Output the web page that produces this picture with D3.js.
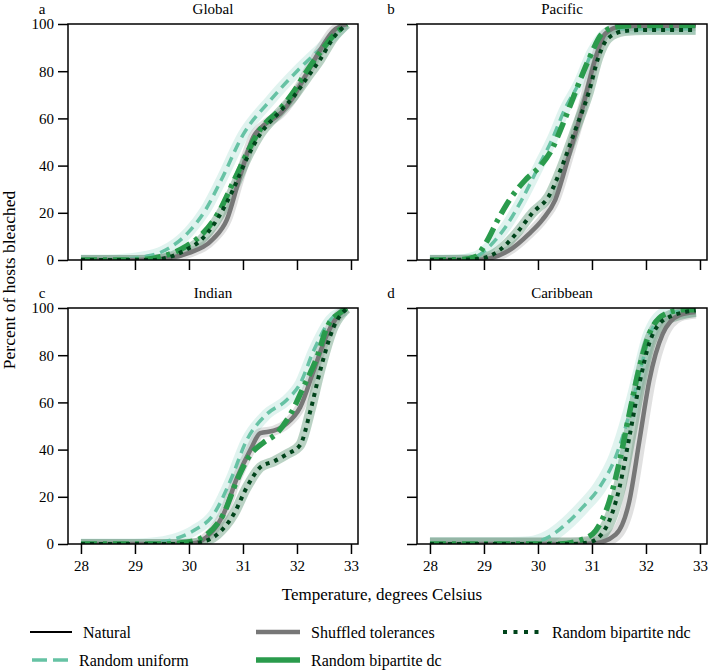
<!DOCTYPE html>
<html>
<head>
<meta charset="utf-8">
<script src="https://cdn.jsdelivr.net/npm/d3@7"></script>
<style>
  body { margin: 0; background: #fff; }
  svg text { font-family: "Liberation Serif", Tinos, "Times New Roman", Times, "DejaVu Serif", serif !important; fill: #000; }
</style>
</head>
<body>
<svg id="chart" width="709" height="670"></svg>
<script>
// ---- data: [temperature, percent bleached] ----
const globalUniform = [[28,0],[28.5,0],[28.8,0.3],[29.2,1.5],[29.5,3.5],[30,12],[30.3,21],[30.6,34],[31,53],[31.5,67.5],[32,80],[32.5,91],[32.9,100]];
const globalShuffled = [[28,0],[29,0],[29.5,0.5],[30,3],[30.45,9],[30.7,17],[30.94,35],[31.19,52],[31.44,58],[31.69,62],[31.93,69],[32.18,79],[32.43,89],[32.67,97],[32.92,100]];
const globalNatural = [[28,0],[29,0],[29.5,0.5],[30,3],[30.45,9],[30.7,17],[30.94,35],[31.19,52],[31.44,58],[31.69,62],[31.93,69],[32.18,79],[32.43,89],[32.67,97],[32.92,100]];
const globalDc = [[28,0],[29,0],[29.5,1.5],[29.96,6],[30.2,10],[30.57,21],[30.82,33],[31.07,45],[31.31,55],[31.69,64],[31.93,71],[32.18,80],[32.43,88],[32.67,95],[32.92,100]];
const globalNdc = [[28,0],[29.3,0],[29.6,1],[29.96,4.5],[30.2,8],[30.57,19],[30.82,30],[31.07,43],[31.31,53],[31.69,63],[31.93,69],[32.18,77],[32.43,85],[32.67,94],[32.92,100]];

const pacificUniform = [[28,0],[28.5,0],[28.85,1.4],[29.1,5.7],[29.4,14],[29.7,25.5],[30.02,40],[30.26,51],[30.5,64],[30.76,75],[31,88],[31.25,96],[31.5,98],[32,98],[32.92,98]];
const pacificShuffled = [[28,0],[28.8,0],[29.1,0.7],[29.46,4],[29.83,11],[30.08,17],[30.32,25.5],[30.57,44],[30.82,64],[31.06,85],[31.25,96],[31.55,99],[32,99.3],[32.92,99.3]];
const pacificNatural = [[28,0],[28.8,0],[29.1,0.7],[29.46,4],[29.83,11],[30.08,17],[30.32,25.5],[30.57,44],[30.82,64],[31.06,85],[31.25,96],[31.55,99],[32,99.3],[32.92,99.3]];
const pacificDc = [[28,0],[28.6,0.2],[28.85,1.5],[29.03,7],[29.28,18],[29.46,25],[29.77,34],[30.05,40],[30.26,47],[30.45,57],[30.69,71],[30.94,85],[31.19,96],[31.43,98.7],[31.8,99.4],[32.92,99.4]];
const pacificNdc = [[28,0],[28.7,0.2],[28.97,0.7],[29.28,4],[29.59,11],[29.9,20],[30.2,27],[30.45,40],[30.69,55],[30.94,71],[31.12,86],[31.3,94],[31.6,97],[32,97.5],[32.92,97.5]];

const indianUniform = [[28,0],[29,0],[29.28,0.3],[29.72,2],[30.09,5.7],[30.46,12.7],[30.77,27],[31.07,44],[31.44,55],[31.81,61],[32.06,68],[32.31,82],[32.62,95],[32.9,99]];
const indianShuffled = [[28,0],[29.8,0],[30.09,0.3],[30.33,3],[30.64,12.7],[30.89,28],[31.14,40],[31.32,47],[31.57,48],[31.81,51],[32.06,58],[32.31,73.5],[32.56,89],[32.86,99],[32.92,100]];
const indianNatural = [[28,0],[29.8,0],[30.09,0.3],[30.33,3],[30.64,12.7],[30.89,28],[31.14,40],[31.32,47],[31.57,48],[31.81,51],[32.06,58],[32.31,73.5],[32.56,89],[32.86,99],[32.92,100]];
const indianDc = [[28,0],[29.5,0],[29.96,0.7],[30.33,4],[30.64,12.7],[30.89,27],[31.14,38],[31.38,43],[31.63,47],[31.88,55],[32.12,66.5],[32.37,79],[32.56,92],[32.86,99],[32.92,100]];
const indianNdc = [[28,0],[29.9,0],[30.21,0.7],[30.52,4],[30.83,12.7],[31.07,24],[31.32,32.5],[31.57,35],[31.81,38],[32.06,42],[32.25,56.6],[32.43,73.5],[32.68,92],[32.92,99.7]];

const caribUniform = [[28,0],[29.5,0],[29.84,0.3],[30.2,3],[30.52,8.5],[30.83,15.6],[31.14,24],[31.44,37],[31.69,55],[31.88,72],[32.06,88],[32.37,97.6],[32.92,99]];
const caribShuffled = [[28,0],[30.8,0],[31.07,0.3],[31.44,4],[31.69,18],[31.88,44],[32.06,69],[32.31,89],[32.62,97],[32.92,98.3]];
const caribNatural = [[28,0],[30.8,0],[31.07,0.3],[31.44,4],[31.69,18],[31.88,44],[32.06,69],[32.31,89],[32.62,97],[32.92,98.3]];
const caribDc = [[28,0],[30.4,0],[30.83,2],[31.07,5.7],[31.32,18],[31.51,35],[31.69,55],[31.88,75],[32.06,89],[32.37,97.6],[32.7,99.3],[32.92,99.3]];
const caribNdc = [[28,0],[30.6,0],[30.95,0.7],[31.26,7],[31.51,24],[31.69,45],[31.88,68],[32.06,85],[32.37,95.5],[32.92,99]];

const xTicks = [28, 29, 30, 31, 32, 33];
const yTicks = [0, 20, 40, 60, 80, 100];

const panels = [
  { letter: "a", title: "Global", left: 68, top: 24, showX: false,
    series: { uniform: globalUniform, shuffled: globalShuffled, natural: globalNatural, dc: globalDc, ndc: globalNdc } },
  { letter: "b", title: "Pacific", left: 417, top: 24, showX: false,
    series: { uniform: pacificUniform, shuffled: pacificShuffled, natural: pacificNatural, dc: pacificDc, ndc: pacificNdc } },
  { letter: "c", title: "Indian", left: 68, top: 308, showX: true,
    series: { uniform: indianUniform, shuffled: indianShuffled, natural: indianNatural, dc: indianDc, ndc: indianNdc } },
  { letter: "d", title: "Caribbean", left: 417, top: 308, showX: true,
    series: { uniform: caribUniform, shuffled: caribShuffled, natural: caribNatural, dc: caribDc, ndc: caribNdc } }
];

// line styles
const styles = {
  uniform:  { label: "Random uniform", color: "#66c2a4", width: 3.5, dash: "10,6", band: "#99d8c9", bandW: 11 },
  shuffled: { label: "Shuffled tolerances", color: "#777777", width: 4.5, dash: null, band: "#999999", bandW: 10 },
  natural:  { label: "Natural", color: "#000000", width: 1.5, dash: null },
  dc:       { label: "Random bipartite dc", color: "#2a9b4c", width: 5.5, dash: "16,6,4,6", band: null },
  ndc:      { label: "Random bipartite ndc", color: "#00441b", width: 4, dash: "4,5", band: "#1b6b3a", bandW: 10 }
};
// natural goes first so the shuffled line covers it, as in the figure
const drawOrder = ["natural", "uniform", "shuffled", "dc", "ndc"];

const W = 290, H = 236;
const svg = d3.select("#chart");

const x = d3.scaleLinear().domain([27.76, 33.13]).range([0, W]);
const y = d3.scaleLinear().domain([0, 100]).range([H, 0]);
const line = d3.line().x(d => x(d[0])).y(d => y(d[1])).curve(d3.curveMonotoneX);

panels.forEach(p => {
  const g = svg.append("g").attr("transform", `translate(${p.left},${p.top})`);

  // clip so the bands don't spill over the frame
  const clipId = "clip-" + p.letter;
  g.append("clipPath").attr("id", clipId)
    .append("rect").attr("width", W).attr("height", H);
  const plot = g.append("g").attr("clip-path", `url(#${clipId})`);

  // shaded bands
  drawOrder.forEach(k => {
    const s = styles[k];
    if (!s.band) return;
    plot.append("path")
      .datum(p.series[k])
      .attr("d", line)
      .attr("fill", "none")
      .attr("stroke", s.band)
      .attr("stroke-opacity", 0.3)
      .attr("stroke-width", p.letter === "d" ? s.bandW + 3 : s.bandW)
      .attr("stroke-linejoin", "round");
  });

  // mean lines
  drawOrder.forEach(k => {
    const s = styles[k];
    plot.append("path")
      .datum(p.series[k])
      .attr("d", line)
      .attr("fill", "none")
      .attr("stroke", s.color)
      .attr("stroke-width", s.width)
      .attr("stroke-dasharray", s.dash)
      .attr("stroke-linejoin", "round");
  });

  // frame
  g.append("rect").attr("width", W).attr("height", H)
    .attr("fill", "none").attr("stroke", "#000").attr("stroke-width", 1.5);

  // axes
  const yAxis = d3.axisLeft(y).tickValues(yTicks).tickSize(10).tickPadding(4)
    .tickFormat(p.left < 100 ? d3.format("d") : "");
  g.append("g").call(yAxis);

  const xAxis = d3.axisBottom(x).tickValues(xTicks).tickSize(10).tickPadding(6)
    .tickFormat(p.showX ? d3.format("d") : "");
  g.append("g").attr("transform", `translate(0,${H})`).call(xAxis);

  g.selectAll(".domain").remove();
  g.selectAll(".tick line").attr("stroke", "#000").attr("stroke-width", 1.5);
  g.selectAll(".tick text").style("font-size", "15px");

  // title and panel letter
  g.append("text").attr("x", W / 2).attr("y", -10)
    .attr("text-anchor", "middle").style("font-size", "15px").text(p.title);
  g.append("text").attr("x", -26).attr("y", -10)
    .attr("text-anchor", "middle").style("font-size", "15px").text(p.letter);
});

// axis labels
svg.append("text").attr("x", 382).attr("y", 600)
  .attr("text-anchor", "middle").style("font-size", "17px")
  .text("Temperature, degrees Celsius");
svg.append("text").attr("transform", "translate(15,280) rotate(-90)")
  .attr("text-anchor", "middle").style("font-size", "17.5px")
  .text("Percent of hosts bleached");

// legend
const legendItems = [
  { key: "natural",  x: 30,  y: 632, len: 42, dash: null, w: 2 },
  { key: "uniform",  x: 32,  y: 660, len: 36, dash: "15,6", w: 3.5 },
  { key: "shuffled", x: 256, y: 632, len: 44, dash: null, w: 4.5 },
  { key: "dc",       x: 256, y: 660, len: 44, dash: null, w: 5.5 },
  { key: "ndc",      x: 503, y: 632, len: 38, dash: "4,6.5", w: 4 }
];
const legend = svg.append("g");
legendItems.forEach(it => {
  const s = styles[it.key];
  legend.append("line")
    .attr("x1", it.x).attr("x2", it.x + it.len)
    .attr("y1", it.y).attr("y2", it.y)
    .attr("stroke", s.color)
    .attr("stroke-width", it.w)
    .attr("stroke-dasharray", it.dash);
  legend.append("text")
    .attr("x", it.x + it.len + 11).attr("y", it.y + 6)
    .style("font-size", "16px")
    .text(s.label);
});
</script>
</body>
</html>
